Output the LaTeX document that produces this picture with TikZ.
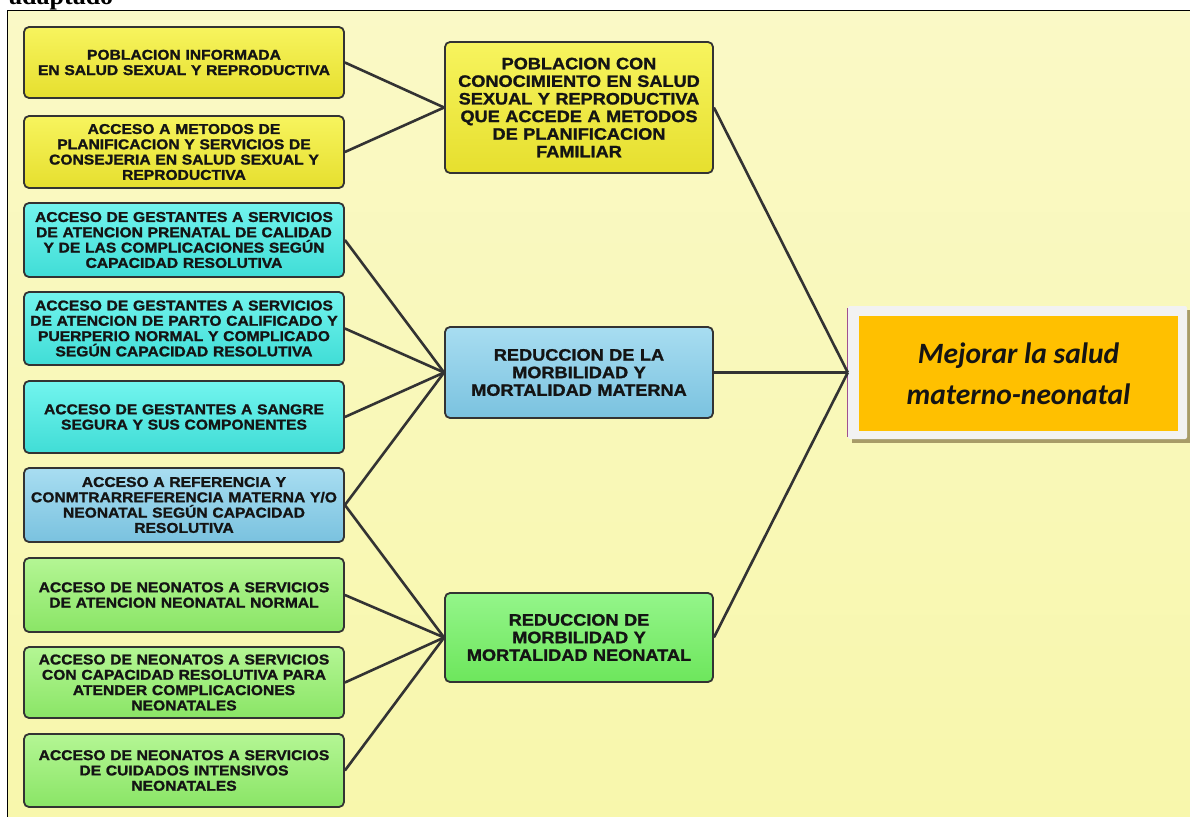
\documentclass[tikz,border=0pt]{standalone}
\usepackage{fontspec}
\setmainfont{Liberation Sans}
\newfontfamily\boxfont[FakeStretch=1.1, BoldFeatures={FakeBold=1.4}]{Liberation Sans}
\newfontfamily\goalfont{Carlito}
\newfontfamily\headserif{Liberation Serif}
\definecolor{bgtop}{HTML}{FAF9C6}
\definecolor{bgbot}{HTML}{F8F7AC}
\definecolor{edge}{HTML}{333333}
\definecolor{txt}{HTML}{141414}
\definecolor{yelT}{HTML}{F7F45E}
\definecolor{yelB}{HTML}{E6DF2E}
\definecolor{cyaT}{HTML}{72F4EE}
\definecolor{cyaB}{HTML}{40DDD6}
\definecolor{bluT}{HTML}{A8DDF1}
\definecolor{bluB}{HTML}{7AC2DF}
\definecolor{grnT}{HTML}{B4F694}
\definecolor{grnB}{HTML}{8AE566}
\definecolor{gmT}{HTML}{94F58A}
\definecolor{gmB}{HTML}{6DE65C}
\definecolor{goalfill}{HTML}{FFC000}
\definecolor{goalframe}{HTML}{F2F2F2}
\definecolor{goalshadow}{HTML}{A89C68}
\definecolor{goalleft}{HTML}{A05090}
\tikzset{
  box/.style={draw=edge, line width=1.8pt, rounded corners=5pt,
    align=center, inner sep=0pt, text=txt},
  leftbox/.style={box, minimum width=320pt, text width=318pt,
    font=\boxfont\bfseries\fontsize{14.2}{15.3}\selectfont},
  midbox/.style={box, minimum width=268pt, text width=266pt,
    font=\boxfont\bfseries\fontsize{16.5}{17.6}\selectfont},
  yel/.style={top color=yelT, bottom color=yelB},
  cya/.style={top color=cyaT, bottom color=cyaB},
  blu/.style={top color=bluT, bottom color=bluB},
  grn/.style={top color=grnT, bottom color=grnB},
  gmid/.style={top color=gmT, bottom color=gmB},
  link/.style={draw=edge, line width=2.6pt}
}
\begin{document}
\begin{tikzpicture}[x=1pt,y=-1pt]
\useasboundingbox (0,0) rectangle (1190,816);
\fill[white] (0,0) rectangle (1190,816);
\shade[top color=bgtop, bottom color=bgbot] (7.5,10.5) rectangle (1190,816);
\node[anchor=base west, inner sep=0pt, font=\headserif\bfseries\fontsize{26}{28}\selectfont] (head) at (9,5) {adaptado};
\draw[black, line width=1.6pt] (7.5,830) -- (7.5,10.5) -- (1200,10.5);

% left column
\node[leftbox, yel, minimum height=71pt] (l1) at (184,62.5) {POBLACION INFORMADA\\EN SALUD SEXUAL Y REPRODUCTIVA};
\node[leftbox, yel, minimum height=72pt] (l2) at (184,152) {ACCESO A METODOS DE\\PLANIFICACION Y SERVICIOS DE\\CONSEJERIA EN SALUD SEXUAL Y\\REPRODUCTIVA};
\node[leftbox, cya, minimum height=74pt] (l3) at (184,240) {ACCESO DE GESTANTES A SERVICIOS\\DE ATENCION PRENATAL DE CALIDAD\\Y DE LAS COMPLICACIONES SEGÚN\\CAPACIDAD RESOLUTIVA};
\node[leftbox, cya, minimum height=73pt] (l4) at (184,328.5) {ACCESO DE GESTANTES A SERVICIOS\\DE ATENCION DE PARTO CALIFICADO Y\\PUERPERIO NORMAL Y COMPLICADO\\SEGÚN CAPACIDAD RESOLUTIVA};
\node[leftbox, cya, minimum height=72pt] (l5) at (184,417) {ACCESO DE GESTANTES A SANGRE\\SEGURA Y SUS COMPONENTES};
\node[leftbox, blu, minimum height=74pt] (l6) at (184,505) {ACCESO A REFERENCIA Y\\CONMTRARREFERENCIA MATERNA Y/O\\NEONATAL SEGÚN CAPACIDAD\\RESOLUTIVA};
\node[leftbox, grn, minimum height=74pt] (l7) at (184,595) {ACCESO DE NEONATOS A SERVICIOS\\DE ATENCION NEONATAL NORMAL};
\node[leftbox, grn, minimum height=71pt] (l8) at (184,682.5) {ACCESO DE NEONATOS A SERVICIOS\\CON CAPACIDAD RESOLUTIVA PARA\\ATENDER COMPLICACIONES\\NEONATALES};
\node[leftbox, grn, minimum height=73pt] (l9) at (184,770.5) {ACCESO DE NEONATOS A SERVICIOS\\DE CUIDADOS INTENSIVOS\\NEONATALES};

% middle column
\node[midbox, yel, minimum height=131pt] (m1) at (579,107.5) {POBLACION CON\\CONOCIMIENTO EN SALUD\\SEXUAL Y REPRODUCTIVA\\QUE ACCEDE A METODOS\\DE PLANIFICACION\\FAMILIAR};
\node[midbox, blu, minimum height=91pt] (m2) at (579,372.5) {REDUCCION DE LA\\MORBILIDAD Y\\MORTALIDAD MATERNA};
\node[midbox, gmid, minimum height=89pt] (m3) at (579,637.5) {REDUCCION DE\\MORBILIDAD Y\\MORTALIDAD NEONATAL};

% goal box
\fill[goalshadow] (852,310) rectangle (1190,442.5);
\node[fill=goalframe, rounded corners=2pt, minimum width=339pt, minimum height=133pt, inner sep=0pt] (goal) at (1017.5,372.5) {};
\draw[goalleft, line width=1.2pt] ([yshift=-2pt]goal.north west) -- ([yshift=2pt]goal.south west);
\node[fill=goalfill, minimum width=319pt, minimum height=115pt, inner sep=0pt, align=center, text=txt,
  font=\goalfont\bfseries\itshape\fontsize{29.5}{41}\selectfont] (goaltext) at (1018.5,373.5) {Mejorar la salud\\materno-neonatal};

% connectors
\draw[link] (l1.east) -- (m1.west);
\draw[link] (l2.east) -- (m1.west);
\draw[link] (l3.east) -- (m2.west);
\draw[link] (l4.east) -- (m2.west);
\draw[link] (l5.east) -- (m2.west);
\draw[link] (l6.east) -- (m2.west);
\draw[link] (l6.east) -- (m3.west);
\draw[link] (l7.east) -- (m3.west);
\draw[link] (l8.east) -- (m3.west);
\draw[link] (l9.east) -- (m3.west);
\draw[link] (m1.east) -- (goal.west);
\draw[link] (m2.east) -- (goal.west);
\draw[link] (m3.east) -- (goal.west);
\end{tikzpicture}
\end{document}
